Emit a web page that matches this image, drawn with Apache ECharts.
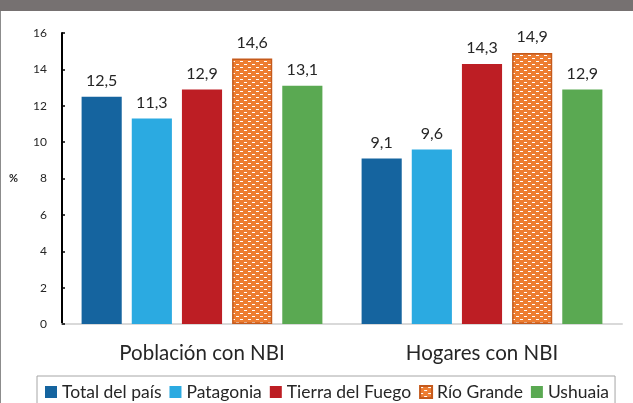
<!DOCTYPE html>
<html>
<head>
<meta charset="utf-8">
<script src="https://cdn.jsdelivr.net/npm/echarts@6/dist/echarts.min.js"></script>
<style>
  html, body { margin: 0; padding: 0; background: #fff; }
  #main { width: 633px; height: 403px; }
</style>
</head>
<body>
<div id="main"></div>
<script>
// datos
var categorias = ['Población con NBI', 'Hogares con NBI'];
var totalPais = [12.5, 9.1];
var patagonia = [11.3, 9.6];
var tierraFuego = [12.9, 14.3];
var rioGrande = [14.6, 14.9];
var ushuaia = [13.1, 12.9];
var yTicks = [0, 2, 4, 6, 8, 10, 12, 14, 16];

var fuente = 'Lato, "Open Sans", sans-serif';

// trama de Río Grande (naranja con guiones blancos)
function trama() {
  var c = document.createElement('canvas');
  c.width = 8; c.height = 6;
  var ctx = c.getContext('2d');
  ctx.fillStyle = '#ED7D31';
  ctx.fillRect(0, 0, 8, 6);
  ctx.fillStyle = '#FFFFFF';
  ctx.fillRect(0, 1, 3, 1);
  ctx.fillRect(4, 4, 3, 1);
  return c;
}

function etiqueta(p) {
  return String(p.value.toFixed(1)).replace('.', ',');
}

var myChart = echarts.init(document.getElementById('main'));

function serie(nombre, datos, color) {
  return {
    name: nombre,
    type: 'bar',
    data: datos,
    barGap: '25%',
    barCategoryGap: '14%',
    itemStyle: { color: color },
    label: {
      show: true,
      position: 'top',
      distance: 8,
      fontFamily: fuente,
      fontSize: 16,
      color: '#262626',
      formatter: etiqueta
    }
  };
}

var series = [
  serie('Total del país', totalPais, '#15649F'),
  serie('Patagonia', patagonia, '#2BAAE1'),
  serie('Tierra del Fuego', tierraFuego, '#BD1E24'),
  serie('Río Grande', rioGrande, { image: trama(), repeat: 'repeat' }),
  serie('Ushuaia', ushuaia, '#5AA952')
];
series[3].itemStyle.borderColor = '#C55A1C';
series[3].itemStyle.borderWidth = 1.5;

var option = {
  animation: false,
  backgroundColor: '#fff',
  grid: { left: 62, right: 11, top: 33, bottom: 79 },
  graphic: [
    { type: 'rect', shape: { x: 0, y: 0, width: 633, height: 11 }, style: { fill: '#767171' } },
    { type: 'line', shape: { x1: 0.5, y1: 11, x2: 0.5, y2: 403 }, style: { stroke: '#8C8C8C', lineWidth: 1 } }
  ],
  legend: {
    left: 37,
    top: 376,
    width: 580,
    padding: [7, 6, 12, 8],
    itemGap: 8,
    itemWidth: 12,
    itemHeight: 12,
    borderColor: '#A6A6A6',
    borderWidth: 1,
    icon: 'rect',
    textStyle: { fontFamily: fuente, fontSize: 17.5, color: '#262626' },
    data: ['Total del país', 'Patagonia', 'Tierra del Fuego', 'Río Grande', 'Ushuaia']
  },
  xAxis: {
    type: 'category',
    data: categorias,
    axisLine: { lineStyle: { color: '#D9D9D9', width: 2 } },
    axisTick: { show: false },
    axisLabel: { fontFamily: fuente, fontSize: 20.5, color: '#262626', margin: 19 }
  },
  yAxis: {
    type: 'value',
    min: yTicks[0],
    max: yTicks[yTicks.length - 1],
    interval: 2,
    name: '%',
    nameLocation: 'middle',
    nameRotate: 0,
    nameGap: 44,
    nameTextStyle: { fontFamily: fuente, fontSize: 11, fontWeight: 'bold', color: '#262626' },
    axisLine: { show: true, lineStyle: { color: '#000', width: 2 } },
    axisTick: { show: true, inside: true, length: 3, lineStyle: { color: '#000', width: 1.5 } },
    splitLine: { show: false },
    axisLabel: { fontFamily: fuente, fontSize: 12, color: '#262626', margin: 15 }
  },
  series: series
};

myChart.setOption(option);
</script>
</body>
</html>
